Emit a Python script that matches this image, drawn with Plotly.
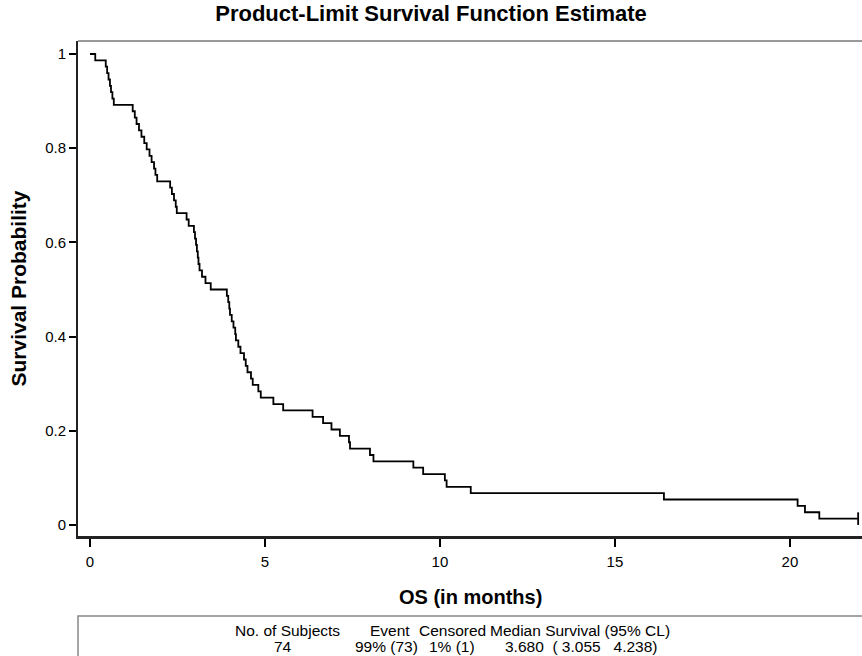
import plotly.graph_objects as go

# Kaplan-Meier step data (time in months, survival after the drop)
times = [0, 0.15, 0.45, 0.49, 0.53, 0.57, 0.60, 0.64, 0.68,
         1.22, 1.28, 1.33, 1.40, 1.47, 1.55, 1.62, 1.70, 1.76, 1.83, 1.87, 1.92,
         2.29, 2.34, 2.40, 2.45, 2.48, 2.76, 2.82,
         2.97, 3.00, 3.03, 3.055, 3.08, 3.10, 3.13, 3.20, 3.30, 3.45,
         3.91, 3.95, 3.98, 4.00, 4.05, 4.10, 4.15, 4.17, 4.238, 4.30, 4.40, 4.45,
         4.50, 4.60, 4.65, 4.81, 4.88,
         5.24, 5.52, 6.36, 6.66, 6.90, 7.14, 7.40, 7.43, 8.00, 8.10,
         9.24, 9.52, 10.14, 10.19, 10.88, 16.40, 20.22, 20.43, 20.84, 21.95]
survival = [1.0, 0.9865, 0.9730, 0.9595, 0.9459, 0.9324, 0.9189, 0.9054, 0.8919,
            0.8784, 0.8649, 0.8514, 0.8378, 0.8243, 0.8108, 0.7973, 0.7838, 0.7703, 0.7568, 0.7432, 0.7297,
            0.7162, 0.7027, 0.6892, 0.6757, 0.6622, 0.6486, 0.6351,
            0.6216, 0.6081, 0.5946, 0.5811, 0.5676, 0.5541, 0.5405, 0.5270, 0.5135, 0.5000,
            0.4865, 0.4730, 0.4595, 0.4459, 0.4324, 0.4189, 0.4054, 0.3919, 0.3784, 0.3649, 0.3514, 0.3378,
            0.3243, 0.3108, 0.2973, 0.2838, 0.2703,
            0.2568, 0.2432, 0.2297, 0.2162, 0.2027, 0.1892, 0.1757, 0.1622, 0.1486, 0.1351,
            0.1216, 0.1081, 0.0946, 0.0811, 0.0676, 0.0541, 0.0405, 0.0270, 0.0135, 0.0135]
censored_times = [21.95]
censored_surv = [0.0135]

x_ticks = [0, 5, 10, 15, 20]
y_ticks = [0, 0.2, 0.4, 0.6, 0.8, 1]

table_header = ["No. of Subjects", "Event", "Censored", "Median Survival (95% CL)"]
table_row = ["74", "99% (73)", "1% (1)", "3.680  ( 3.055   4.238)"]
header_x = [0.2666, 0.398, 0.478, 0.640]
row_x = [0.2615, 0.393, 0.477, 0.642]

FONT = "Liberation Sans, Arial, sans-serif"
W, H = 862, 656

fig = go.Figure()
fig.add_trace(go.Scatter(x=times, y=survival, mode="lines", line=dict(color="black", width=1.8, shape="hv"),
                         showlegend=False, hoverinfo="skip"))
fig.add_trace(go.Scatter(x=censored_times, y=censored_surv, mode="markers",
                         marker=dict(symbol="line-ns", size=9, line=dict(color="black", width=1.8)),
                         showlegend=False, hoverinfo="skip"))

fig.update_layout(
    width=W, height=H,
    margin=dict(l=78, r=0, t=41, b=120, autoexpand=False),
    paper_bgcolor="white", plot_bgcolor="white",
    font=dict(family=FONT, color="black", size=14),
    title=dict(text="<b>Product-Limit Survival Function Estimate</b>", x=431 / W, xref="container",
               y=1 - 13.5 / H, yref="container", xanchor="center", yanchor="middle",
               font=dict(size=22, family=FONT, color="black")),
    xaxis=dict(range=[-0.343, 22.06], tickvals=x_ticks, ticks="outside", ticklen=8, tickwidth=1.5,
               tickcolor="black", showline=True, linecolor="#222222", linewidth=2.5, showgrid=False,
               zeroline=False, tickfont=dict(size=15), ticklabelstandoff=2),
    yaxis=dict(range=[-0.0234, 1.0276], tickvals=y_ticks, ticks="outside", ticklen=7, tickwidth=1.5,
               tickcolor="black", showline=True, linecolor="#222222", linewidth=2, showgrid=False,
               zeroline=False, tickfont=dict(size=15)),
)

fig.add_shape(type="line", xref="paper", yref="paper", x0=0, x1=1, y0=1, y1=1,
              line=dict(color="#777777", width=1.5))
fig.add_shape(type="rect", xref="paper", yref="paper", x0=0, x1=1.02, y0=-0.35, y1=-0.1616,
              line=dict(color="#888888", width=1.5))

fig.add_annotation(text="<b>OS (in months)</b>", xref="paper", yref="paper", x=0.5, y=-0.1232,
                   xanchor="center", yanchor="middle", showarrow=False, font=dict(size=20, family=FONT))
fig.add_annotation(text="<b>Survival Probability</b>", xref="paper", yref="paper", x=-0.0765, y=0.5,
                   xanchor="center", yanchor="middle", textangle=-90, showarrow=False,
                   font=dict(size=21, family=FONT))

for txt, xp in zip(table_header, header_x):
    fig.add_annotation(text=txt, xref="paper", yref="paper", x=xp, y=-0.19, xanchor="center",
                       yanchor="middle", showarrow=False, font=dict(size=15.5, family=FONT))
for txt, xp in zip(table_row, row_x):
    fig.add_annotation(text=txt.replace("  ", "&nbsp; ").replace("   ", "&nbsp;&nbsp; "),
                       xref="paper", yref="paper", x=xp, y=-0.224, xanchor="center",
                       yanchor="middle", showarrow=False, font=dict(size=15.5, family=FONT))

# remove the browser's default 8px body margin so the figure fills the window exactly
fig.write_html("out.html", config={"displayModeBar": False},
               post_script="document.body.style.margin='0';document.body.style.overflow='hidden';")
